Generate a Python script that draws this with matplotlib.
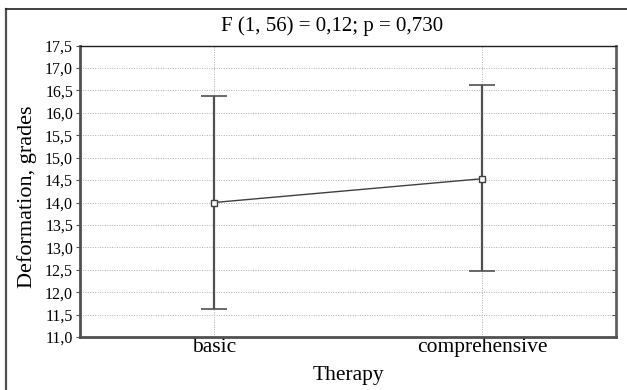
import matplotlib
matplotlib.use("Agg")
import matplotlib.pyplot as plt
from matplotlib.lines import Line2D

categories = ["basic", "comprehensive"]
means = [14.0, 14.53]
upper = [16.37, 16.61]
lower = [11.62, 12.47]
yticks = [11.0, 11.5, 12.0, 12.5, 13.0, 13.5, 14.0, 14.5, 15.0, 15.5, 16.0, 16.5, 17.0, 17.5]
title = "F (1, 56) = 0,12; p = 0,730"

plt.rcParams['font.family'] = ['Liberation Serif', 'DejaVu Serif']

W, H = 627, 390
fig = plt.figure(figsize=(W / 100, H / 100), dpi=100)
ax = fig.add_axes([80 / W, 1 - 337 / H, (616 - 80) / W, (337 - 45.6) / H])

x = list(range(len(categories)))
err_lo = [m - l for m, l in zip(means, lower)]
err_hi = [u - m for m, u in zip(means, upper)]

ax.errorbar(x, means, yerr=[err_lo, err_hi], fmt='none', ecolor='#505050',
            elinewidth=1.6, capsize=9.5, capthick=1.2, zorder=3)
ax.plot(x, means, color='#404040', lw=1.0, marker='s', ms=4,
        mfc='white', mec='#404040', mew=1.0, zorder=4)

ax.set_xlim(-0.5, 1.5)
ax.set_ylim(11.0, 17.5)
ax.set_xticks(x)
ax.set_xticklabels(categories, fontsize=15.5)
ax.set_yticks(yticks)
ax.set_yticklabels([f"{v:.1f}".replace('.', ',') for v in yticks], fontsize=11.5)

ax.grid(True, color='#b0b0b0', linestyle=(0, (1, 1.5)), linewidth=0.7)
ax.set_axisbelow(True)

ax.tick_params(axis='y', direction='out', length=3, width=0.8, color='#505050',
               right=True, pad=2)
ax.tick_params(axis='x', length=0, pad=1)
for t in ax.yaxis.get_major_ticks():
    t.tick2line.set_marker(matplotlib.markers.TICKLEFT)
    t.tick2line.set_markersize(3)

ax.spines['left'].set_color('#505050')
ax.spines['left'].set_linewidth(2.0)
ax.spines['bottom'].set_color('#505050')
ax.spines['bottom'].set_linewidth(2.0)
ax.spines['right'].set_color('#606060')
ax.spines['right'].set_linewidth(2.0)
ax.spines['top'].set_color('#202020')
ax.spines['top'].set_linewidth(1.0)

ax.set_xlabel("Therapy", fontsize=15.5, labelpad=6)
ax.set_ylabel("Deformation, grades", fontsize=16, labelpad=2)
ax.yaxis.set_label_coords(-0.08, 0.48)

fig.text(332 / W, 1 - 26 / H, title, ha='center', va='center', fontsize=15)

# outer frame
fig.add_artist(Line2D([6 / W, 6 / W], [0, 1 - 9 / H], transform=fig.transFigure,
                      color='#505050', lw=1.6))
fig.add_artist(Line2D([6 / W, 1], [1 - 9 / H, 1 - 9 / H], transform=fig.transFigure,
                      color='#202020', lw=1.2))

fig.savefig("out.png", dpi=100)
